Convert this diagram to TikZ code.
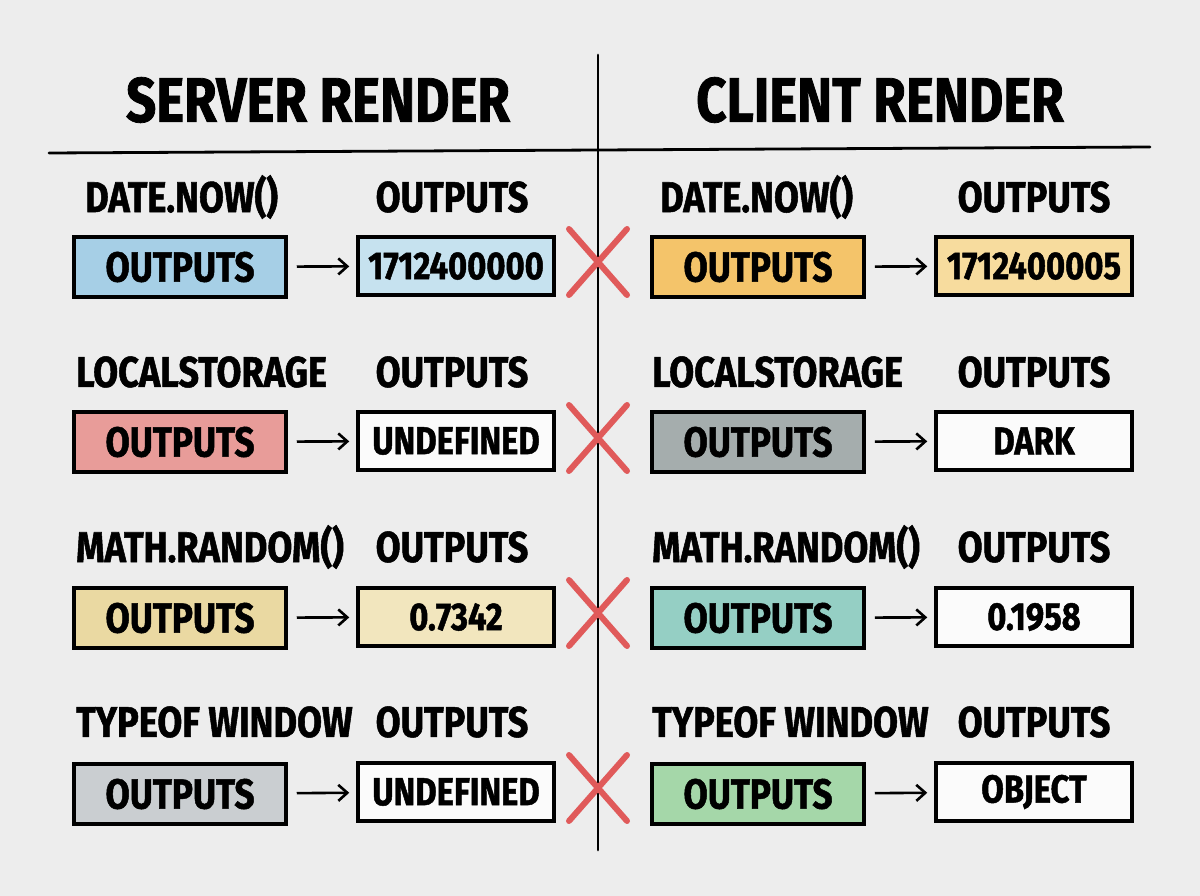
\documentclass[tikz,border=0pt]{standalone}
\usepackage{fontspec}
\setmainfont{Fira Sans}[FakeStretch=0.84, BoldFeatures={FakeBold=1.2}]
\usetikzlibrary{arrows.meta,shapes.misc}
\definecolor{bg}{HTML}{EDEDED}
\definecolor{xred}{HTML}{E05A5A}
\definecolor{blueK}{HTML}{A6CFE6}
\definecolor{blueV}{HTML}{C6E2EF}
\definecolor{orangeK}{HTML}{F4C46A}
\definecolor{orangeV}{HTML}{F7DC9E}
\definecolor{redK}{HTML}{E89C99}
\definecolor{grayK}{HTML}{A5ADAD}
\definecolor{khakiK}{HTML}{EAD9A2}
\definecolor{khakiV}{HTML}{F2E6BE}
\definecolor{tealK}{HTML}{95CFC4}
\definecolor{lgrayK}{HTML}{CACED1}
\definecolor{greenK}{HTML}{A5D7A9}
\definecolor{whiteV}{HTML}{FBFBFB}
\tikzset{
  title/.style={font=\fontsize{63}{66}\selectfont\bfseries, inner sep=0pt},
  lbl/.style={font=\fontsize{43}{46}\selectfont\bfseries, inner sep=0pt},
  keybox/.style={draw=black, line width=3.5pt, minimum width=212, minimum height=60, inner sep=0pt,
     font=\fontsize{42}{44}\selectfont\bfseries},
  valbox/.style={draw=black, line width=3.5pt, minimum width=196, minimum height=58, inner sep=0pt,
     font=\fontsize{39}{42}\selectfont\bfseries},
  conn/.style={-{Straight Barb[length=9pt,width=16pt]}, line width=2.6pt, shorten <=9pt, shorten >=7pt},
  xmark/.style={cross out, draw=xred, line width=6pt, line cap=round, minimum width=52, minimum height=60, inner sep=0pt},
  rule/.style={line width=2.8pt, line cap=round}
}
\begin{document}
\begin{tikzpicture}[x=1pt, y=-1pt]
\fill[bg] (0,0) rectangle (1200,896);
\useasboundingbox (0,0) rectangle (1200,896);

% titles
\node[title] (tS) at (318,100) {SERVER RENDER};
\node[title] (tC) at (880,100) {CLIENT RENDER};

% rules
\coordinate (hl) at (49,153);
\coordinate (hr) at (1150,147);
\coordinate (vt) at (598,55);
\coordinate (vb) at (598,850);
\draw[rule] (hl) -- (hr);
\draw[rule] (vt) -- (vb);

% ---------- row 1 ----------
\node[lbl, anchor=west] (lL1) at (85,197) {DATE.NOW()};
\node[lbl] (oL1) at (452,197) {OUTPUTS};
\node[keybox, fill=blueK] (kL1) at (180,267) {OUTPUTS};
\node[valbox, fill=blueV] (vL1) at (456,266) {1712400000};
\draw[conn] (kL1) -- (vL1);
\node[lbl, anchor=west] (lR1) at (660,197) {DATE.NOW()};
\node[lbl] (oR1) at (1034,197) {OUTPUTS};
\node[keybox, fill=orangeK] (kR1) at (758,267) {OUTPUTS};
\node[valbox, fill=orangeV] (vR1) at (1034,266) {1712400005};
\draw[conn] (kR1) -- (vR1);
\node[xmark] (x1) at (598,262) {};

% ---------- row 2 ----------
\node[lbl, anchor=west] (lL2) at (76,372) {LOCALSTORAGE};
\node[lbl] (oL2) at (452,372) {OUTPUTS};
\node[keybox, fill=redK] (kL2) at (180,442) {OUTPUTS};
\node[valbox, fill=whiteV] (vL2) at (456,441) {UNDEFINED};
\draw[conn] (kL2) -- (vL2);
\node[lbl, anchor=west] (lR2) at (652,372) {LOCALSTORAGE};
\node[lbl] (oR2) at (1034,372) {OUTPUTS};
\node[keybox, fill=grayK] (kR2) at (758,442) {OUTPUTS};
\node[valbox, fill=whiteV] (vR2) at (1034,441) {DARK};
\draw[conn] (kR2) -- (vR2);
\node[xmark] (x2) at (598,438) {};

% ---------- row 3 ----------
\node[lbl, anchor=west] (lL3) at (76,547) {MATH.RANDOM()};
\node[lbl] (oL3) at (452,547) {OUTPUTS};
\node[keybox, fill=khakiK] (kL3) at (180,618) {OUTPUTS};
\node[valbox, fill=khakiV] (vL3) at (456,617) {0.7342};
\draw[conn] (kL3) -- (vL3);
\node[lbl, anchor=west] (lR3) at (652,547) {MATH.RANDOM()};
\node[lbl] (oR3) at (1034,547) {OUTPUTS};
\node[keybox, fill=tealK] (kR3) at (758,618) {OUTPUTS};
\node[valbox, fill=whiteV] (vR3) at (1034,617) {0.1958};
\draw[conn] (kR3) -- (vR3);
\node[xmark] (x3) at (598,613) {};

% ---------- row 4 ----------
\node[lbl, anchor=west] (lL4) at (76,722) {TYPEOF WINDOW};
\node[lbl] (oL4) at (452,722) {OUTPUTS};
\node[keybox, fill=lgrayK] (kL4) at (180,794) {OUTPUTS};
\node[valbox, fill=whiteV] (vL4) at (456,792) {UNDEFINED};
\draw[conn] (kL4) -- (vL4);
\node[lbl, anchor=west] (lR4) at (652,722) {TYPEOF WINDOW};
\node[lbl] (oR4) at (1034,722) {OUTPUTS};
\node[keybox, fill=greenK] (kR4) at (758,794) {OUTPUTS};
\node[valbox, fill=whiteV] (vR4) at (1034,792) {OBJECT};
\draw[conn] (kR4) -- (vR4);
\node[xmark] (x4) at (598,788) {};
\end{tikzpicture}
\end{document}
